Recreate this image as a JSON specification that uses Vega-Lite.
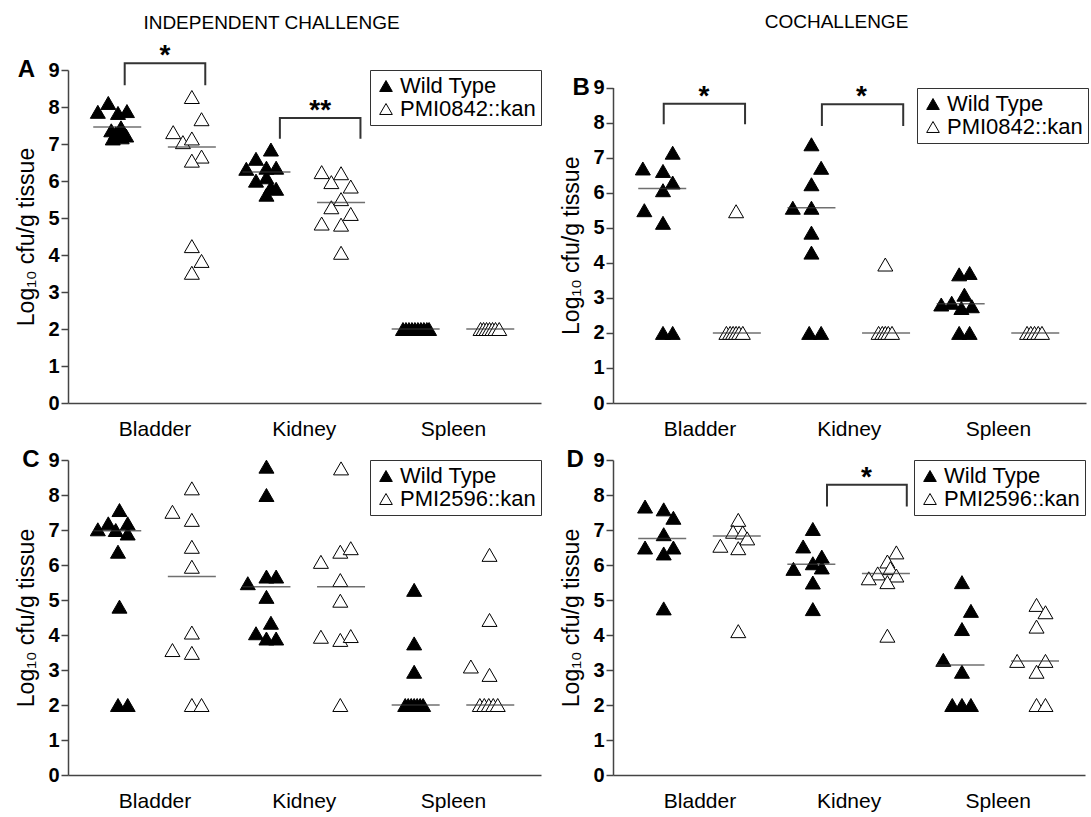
{
  "$schema": "https://vega.github.io/schema/vega-lite/v6.json",
  "padding": {"left": 15, "top": 13, "right": 2, "bottom": 2},
  "config": {
    "font": "Liberation Sans",
    "view": {"stroke": null},
    "axis": {"grid": false, "domainColor": "#444", "domainWidth": 1.5, "tickColor": "#444", "tickWidth": 1.5, "labelColor": "black", "titleColor": "black"},
    "title": {"color": "black", "fontWeight": "normal"},
    "legend": {"title": null, "labelFontSize": 22, "labelColor": "black", "symbolType": "triangle-up", "symbolSize": 160, "symbolStrokeColor": "black", "symbolStrokeWidth": 1, "strokeColor": "#333", "fillColor": "white", "padding": 5, "rowPadding": 1, "labelOffset": 3}
  },
  "datasets": {
    "pts": [
      {"p":"A","s":"Wild Type","x":0.40,"v":7.87},{"p":"A","s":"Wild Type","x":0.54,"v":8.11},{"p":"A","s":"Wild Type","x":0.67,"v":7.84},{"p":"A","s":"Wild Type","x":0.79,"v":7.89},{"p":"A","s":"Wild Type","x":0.58,"v":7.37},{"p":"A","s":"Wild Type","x":0.71,"v":7.45},{"p":"A","s":"Wild Type","x":0.64,"v":7.29},{"p":"A","s":"Wild Type","x":0.78,"v":7.23},{"p":"A","s":"Wild Type","x":0.60,"v":7.15},{"p":"A","s":"Wild Type","x":0.72,"v":7.18},
      {"p":"A","s":"PMI0842::kan","x":1.66,"v":8.27},{"p":"A","s":"PMI0842::kan","x":1.79,"v":7.67},{"p":"A","s":"PMI0842::kan","x":1.41,"v":7.32},{"p":"A","s":"PMI0842::kan","x":1.54,"v":7.05},{"p":"A","s":"PMI0842::kan","x":1.66,"v":7.15},{"p":"A","s":"PMI0842::kan","x":1.79,"v":6.66},{"p":"A","s":"PMI0842::kan","x":1.66,"v":6.55},{"p":"A","s":"PMI0842::kan","x":1.66,"v":4.24},{"p":"A","s":"PMI0842::kan","x":1.79,"v":3.84},{"p":"A","s":"PMI0842::kan","x":1.66,"v":3.52},
      {"p":"A","s":"Wild Type","x":2.39,"v":6.33},{"p":"A","s":"Wild Type","x":2.52,"v":6.60},{"p":"A","s":"Wild Type","x":2.72,"v":6.85},{"p":"A","s":"Wild Type","x":2.66,"v":6.36},{"p":"A","s":"Wild Type","x":2.79,"v":6.36},{"p":"A","s":"Wild Type","x":2.52,"v":6.01},{"p":"A","s":"Wild Type","x":2.66,"v":6.10},{"p":"A","s":"Wild Type","x":2.79,"v":5.79},{"p":"A","s":"Wild Type","x":2.66,"v":5.63},{"p":"A","s":"Wild Type","x":2.72,"v":5.83},
      {"p":"A","s":"PMI0842::kan","x":3.40,"v":6.24},{"p":"A","s":"PMI0842::kan","x":3.66,"v":6.21},{"p":"A","s":"PMI0842::kan","x":3.53,"v":5.97},{"p":"A","s":"PMI0842::kan","x":3.79,"v":5.85},{"p":"A","s":"PMI0842::kan","x":3.66,"v":5.51},{"p":"A","s":"PMI0842::kan","x":3.53,"v":5.29},{"p":"A","s":"PMI0842::kan","x":3.79,"v":5.11},{"p":"A","s":"PMI0842::kan","x":3.40,"v":4.85},{"p":"A","s":"PMI0842::kan","x":3.66,"v":4.82},{"p":"A","s":"PMI0842::kan","x":3.66,"v":4.06},
      {"p":"A","s":"Wild Type","x":4.49,"v":2},{"p":"A","s":"Wild Type","x":4.53,"v":2},{"p":"A","s":"Wild Type","x":4.57,"v":2},{"p":"A","s":"Wild Type","x":4.61,"v":2},{"p":"A","s":"Wild Type","x":4.65,"v":2},{"p":"A","s":"Wild Type","x":4.69,"v":2},{"p":"A","s":"Wild Type","x":4.73,"v":2},{"p":"A","s":"Wild Type","x":4.77,"v":2},{"p":"A","s":"Wild Type","x":4.81,"v":2},{"p":"A","s":"Wild Type","x":4.84,"v":2},
      {"p":"A","s":"PMI0842::kan","x":5.53,"v":2},{"p":"A","s":"PMI0842::kan","x":5.57,"v":2},{"p":"A","s":"PMI0842::kan","x":5.61,"v":2},{"p":"A","s":"PMI0842::kan","x":5.65,"v":2},{"p":"A","s":"PMI0842::kan","x":5.69,"v":2},{"p":"A","s":"PMI0842::kan","x":5.73,"v":2},{"p":"A","s":"PMI0842::kan","x":5.78,"v":2},

      {"p":"B","s":"Wild Type","x":0.40,"v":6.69},{"p":"B","s":"Wild Type","x":0.67,"v":6.62},{"p":"B","s":"Wild Type","x":0.80,"v":7.14},{"p":"B","s":"Wild Type","x":0.80,"v":6.29},{"p":"B","s":"Wild Type","x":0.67,"v":6.07},{"p":"B","s":"Wild Type","x":0.42,"v":5.50},{"p":"B","s":"Wild Type","x":0.67,"v":5.14},{"p":"B","s":"Wild Type","x":0.67,"v":2},{"p":"B","s":"Wild Type","x":0.80,"v":2},
      {"p":"B","s":"PMI0842::kan","x":1.65,"v":5.47},{"p":"B","s":"PMI0842::kan","x":1.52,"v":2},{"p":"B","s":"PMI0842::kan","x":1.57,"v":2},{"p":"B","s":"PMI0842::kan","x":1.61,"v":2},{"p":"B","s":"PMI0842::kan","x":1.65,"v":2},{"p":"B","s":"PMI0842::kan","x":1.69,"v":2},{"p":"B","s":"PMI0842::kan","x":1.74,"v":2},
      {"p":"B","s":"Wild Type","x":2.66,"v":7.38},{"p":"B","s":"Wild Type","x":2.79,"v":6.71},{"p":"B","s":"Wild Type","x":2.66,"v":6.24},{"p":"B","s":"Wild Type","x":2.41,"v":5.57},{"p":"B","s":"Wild Type","x":2.66,"v":5.57},{"p":"B","s":"Wild Type","x":2.66,"v":4.86},{"p":"B","s":"Wild Type","x":2.66,"v":4.29},{"p":"B","s":"Wild Type","x":2.63,"v":2},{"p":"B","s":"Wild Type","x":2.79,"v":2},
      {"p":"B","s":"PMI0842::kan","x":3.65,"v":3.95},{"p":"B","s":"PMI0842::kan","x":3.56,"v":2},{"p":"B","s":"PMI0842::kan","x":3.61,"v":2},{"p":"B","s":"PMI0842::kan","x":3.65,"v":2},{"p":"B","s":"PMI0842::kan","x":3.69,"v":2},{"p":"B","s":"PMI0842::kan","x":3.74,"v":2},
      {"p":"B","s":"Wild Type","x":4.64,"v":3.67},{"p":"B","s":"Wild Type","x":4.78,"v":3.71},{"p":"B","s":"Wild Type","x":4.71,"v":3.09},{"p":"B","s":"Wild Type","x":4.40,"v":2.81},{"p":"B","s":"Wild Type","x":4.54,"v":2.86},{"p":"B","s":"Wild Type","x":4.67,"v":2.71},{"p":"B","s":"Wild Type","x":4.81,"v":2.76},{"p":"B","s":"Wild Type","x":4.64,"v":2},{"p":"B","s":"Wild Type","x":4.78,"v":2},
      {"p":"B","s":"PMI0842::kan","x":5.55,"v":2},{"p":"B","s":"PMI0842::kan","x":5.60,"v":2},{"p":"B","s":"PMI0842::kan","x":5.65,"v":2},{"p":"B","s":"PMI0842::kan","x":5.70,"v":2},{"p":"B","s":"PMI0842::kan","x":5.75,"v":2},

      {"p":"C","s":"Wild Type","x":0.69,"v":7.57},{"p":"C","s":"Wild Type","x":0.40,"v":7.02},{"p":"C","s":"Wild Type","x":0.54,"v":7.19},{"p":"C","s":"Wild Type","x":0.64,"v":7.0},{"p":"C","s":"Wild Type","x":0.80,"v":7.19},{"p":"C","s":"Wild Type","x":0.80,"v":6.9},{"p":"C","s":"Wild Type","x":0.67,"v":6.38},{"p":"C","s":"Wild Type","x":0.69,"v":4.81},{"p":"C","s":"Wild Type","x":0.67,"v":2},{"p":"C","s":"Wild Type","x":0.80,"v":2},
      {"p":"C","s":"PMI2596::kan","x":1.66,"v":8.19},{"p":"C","s":"PMI2596::kan","x":1.40,"v":7.52},{"p":"C","s":"PMI2596::kan","x":1.66,"v":7.29},{"p":"C","s":"PMI2596::kan","x":1.66,"v":6.52},{"p":"C","s":"PMI2596::kan","x":1.66,"v":5.95},{"p":"C","s":"PMI2596::kan","x":1.66,"v":4.07},{"p":"C","s":"PMI2596::kan","x":1.40,"v":3.57},{"p":"C","s":"PMI2596::kan","x":1.66,"v":3.49},{"p":"C","s":"PMI2596::kan","x":1.66,"v":2},{"p":"C","s":"PMI2596::kan","x":1.79,"v":2},
      {"p":"C","s":"Wild Type","x":2.66,"v":8.81},{"p":"C","s":"Wild Type","x":2.66,"v":8.0},{"p":"C","s":"Wild Type","x":2.41,"v":5.48},{"p":"C","s":"Wild Type","x":2.66,"v":5.67},{"p":"C","s":"Wild Type","x":2.79,"v":5.67},{"p":"C","s":"Wild Type","x":2.66,"v":5.09},{"p":"C","s":"Wild Type","x":2.72,"v":4.35},{"p":"C","s":"Wild Type","x":2.52,"v":4.05},{"p":"C","s":"Wild Type","x":2.66,"v":3.9},{"p":"C","s":"Wild Type","x":2.79,"v":3.9},
      {"p":"C","s":"PMI2596::kan","x":3.66,"v":8.76},{"p":"C","s":"PMI2596::kan","x":3.39,"v":6.09},{"p":"C","s":"PMI2596::kan","x":3.65,"v":6.38},{"p":"C","s":"PMI2596::kan","x":3.79,"v":6.48},{"p":"C","s":"PMI2596::kan","x":3.65,"v":5.57},{"p":"C","s":"PMI2596::kan","x":3.65,"v":4.98},{"p":"C","s":"PMI2596::kan","x":3.39,"v":3.95},{"p":"C","s":"PMI2596::kan","x":3.65,"v":3.86},{"p":"C","s":"PMI2596::kan","x":3.79,"v":3.97},{"p":"C","s":"PMI2596::kan","x":3.65,"v":2.0},
      {"p":"C","s":"Wild Type","x":4.64,"v":5.29},{"p":"C","s":"Wild Type","x":4.64,"v":3.76},{"p":"C","s":"Wild Type","x":4.64,"v":2.95},{"p":"C","s":"Wild Type","x":4.52,"v":2},{"p":"C","s":"Wild Type","x":4.56,"v":2},{"p":"C","s":"Wild Type","x":4.60,"v":2},{"p":"C","s":"Wild Type","x":4.64,"v":2},{"p":"C","s":"Wild Type","x":4.68,"v":2},{"p":"C","s":"Wild Type","x":4.72,"v":2},{"p":"C","s":"Wild Type","x":4.76,"v":2},
      {"p":"C","s":"PMI2596::kan","x":5.65,"v":6.29},{"p":"C","s":"PMI2596::kan","x":5.65,"v":4.43},{"p":"C","s":"PMI2596::kan","x":5.40,"v":3.1},{"p":"C","s":"PMI2596::kan","x":5.65,"v":2.86},{"p":"C","s":"PMI2596::kan","x":5.52,"v":2},{"p":"C","s":"PMI2596::kan","x":5.58,"v":2},{"p":"C","s":"PMI2596::kan","x":5.64,"v":2},{"p":"C","s":"PMI2596::kan","x":5.70,"v":2},{"p":"C","s":"PMI2596::kan","x":5.76,"v":2},

      {"p":"D","s":"Wild Type","x":0.43,"v":7.67},{"p":"D","s":"Wild Type","x":0.68,"v":7.59},{"p":"D","s":"Wild Type","x":0.81,"v":7.35},{"p":"D","s":"Wild Type","x":0.68,"v":6.88},{"p":"D","s":"Wild Type","x":0.43,"v":6.5},{"p":"D","s":"Wild Type","x":0.81,"v":6.5},{"p":"D","s":"Wild Type","x":0.68,"v":6.33},{"p":"D","s":"Wild Type","x":0.68,"v":4.76},
      {"p":"D","s":"PMI2596::kan","x":1.68,"v":7.29},{"p":"D","s":"PMI2596::kan","x":1.61,"v":6.95},{"p":"D","s":"PMI2596::kan","x":1.74,"v":6.93},{"p":"D","s":"PMI2596::kan","x":1.80,"v":6.76},{"p":"D","s":"PMI2596::kan","x":1.44,"v":6.55},{"p":"D","s":"PMI2596::kan","x":1.68,"v":6.48},{"p":"D","s":"PMI2596::kan","x":1.68,"v":4.11},
      {"p":"D","s":"Wild Type","x":2.68,"v":7.03},{"p":"D","s":"Wild Type","x":2.55,"v":6.53},{"p":"D","s":"Wild Type","x":2.80,"v":6.24},{"p":"D","s":"Wild Type","x":2.68,"v":6.05},{"p":"D","s":"Wild Type","x":2.80,"v":5.93},{"p":"D","s":"Wild Type","x":2.42,"v":5.89},{"p":"D","s":"Wild Type","x":2.68,"v":5.5},{"p":"D","s":"Wild Type","x":2.68,"v":4.74},
      {"p":"D","s":"PMI2596::kan","x":3.80,"v":6.36},{"p":"D","s":"PMI2596::kan","x":3.68,"v":6.1},{"p":"D","s":"PMI2596::kan","x":3.72,"v":5.91},{"p":"D","s":"PMI2596::kan","x":3.55,"v":5.76},{"p":"D","s":"PMI2596::kan","x":3.43,"v":5.62},{"p":"D","s":"PMI2596::kan","x":3.80,"v":5.7},{"p":"D","s":"PMI2596::kan","x":3.68,"v":5.51},{"p":"D","s":"PMI2596::kan","x":3.68,"v":3.98},
      {"p":"D","s":"Wild Type","x":4.68,"v":5.51},{"p":"D","s":"Wild Type","x":4.80,"v":4.69},{"p":"D","s":"Wild Type","x":4.68,"v":4.17},{"p":"D","s":"Wild Type","x":4.43,"v":3.29},{"p":"D","s":"Wild Type","x":4.68,"v":2.95},{"p":"D","s":"Wild Type","x":4.55,"v":2},{"p":"D","s":"Wild Type","x":4.68,"v":2},{"p":"D","s":"Wild Type","x":4.80,"v":2},
      {"p":"D","s":"PMI2596::kan","x":5.68,"v":4.86},{"p":"D","s":"PMI2596::kan","x":5.80,"v":4.65},{"p":"D","s":"PMI2596::kan","x":5.68,"v":4.24},{"p":"D","s":"PMI2596::kan","x":5.42,"v":3.26},{"p":"D","s":"PMI2596::kan","x":5.80,"v":3.26},{"p":"D","s":"PMI2596::kan","x":5.68,"v":2.95},{"p":"D","s":"PMI2596::kan","x":5.68,"v":2},{"p":"D","s":"PMI2596::kan","x":5.80,"v":2}
    ],
    "med": [
      {"p":"A","x":0.66,"v":7.46},{"p":"A","x":1.66,"v":6.92},{"p":"A","x":2.66,"v":6.24},{"p":"A","x":3.66,"v":5.42},{"p":"A","x":4.66,"v":2},{"p":"A","x":5.66,"v":2},
      {"p":"B","x":0.66,"v":6.12},{"p":"B","x":1.66,"v":2},{"p":"B","x":2.66,"v":5.57},{"p":"B","x":3.66,"v":2},{"p":"B","x":4.66,"v":2.83},{"p":"B","x":5.66,"v":2},
      {"p":"C","x":0.66,"v":6.98},{"p":"C","x":1.66,"v":5.67},{"p":"C","x":2.66,"v":5.38},{"p":"C","x":3.66,"v":5.38},{"p":"C","x":4.66,"v":2},{"p":"C","x":5.66,"v":2},
      {"p":"D","x":0.66,"v":6.76},{"p":"D","x":1.66,"v":6.83},{"p":"D","x":2.66,"v":6.02},{"p":"D","x":3.66,"v":5.76},{"p":"D","x":4.66,"v":3.14},{"p":"D","x":5.66,"v":3.26}
    ],
    "br": [
      {"p":"A","id":"A1","o":1,"x":0.76,"v":8.59},{"p":"A","id":"A1","o":2,"x":0.76,"v":9.18},{"p":"A","id":"A1","o":3,"x":1.84,"v":9.18},{"p":"A","id":"A1","o":4,"x":1.84,"v":8.59},
      {"p":"A","id":"A2","o":1,"x":2.84,"v":7.14},{"p":"A","id":"A2","o":2,"x":2.84,"v":7.70},{"p":"A","id":"A2","o":3,"x":3.92,"v":7.70},{"p":"A","id":"A2","o":4,"x":3.92,"v":7.14},
      {"p":"B","id":"B1","o":1,"x":0.68,"v":7.95},{"p":"B","id":"B1","o":2,"x":0.68,"v":8.54},{"p":"B","id":"B1","o":3,"x":1.77,"v":8.54},{"p":"B","id":"B1","o":4,"x":1.77,"v":7.95},
      {"p":"B","id":"B2","o":1,"x":2.80,"v":7.90},{"p":"B","id":"B2","o":2,"x":2.80,"v":8.52},{"p":"B","id":"B2","o":3,"x":3.89,"v":8.52},{"p":"B","id":"B2","o":4,"x":3.89,"v":7.90},
      {"p":"D","id":"D1","o":1,"x":2.87,"v":7.67},{"p":"D","id":"D1","o":2,"x":2.87,"v":8.29},{"p":"D","id":"D1","o":3,"x":3.94,"v":8.29},{"p":"D","id":"D1","o":4,"x":3.94,"v":7.67}
    ],
    "stars": [
      {"p":"A","x":1.30,"v":9.18,"lab":"*"},{"p":"A","x":3.38,"v":7.70,"lab":"**"},
      {"p":"B","x":1.22,"v":8.54,"lab":"*"},{"p":"B","x":3.33,"v":8.52,"lab":"*"},
      {"p":"D","x":3.40,"v":8.29,"lab":"*"}
    ],
    "letters": [
      {"p":"A","t":"A","x":-0.44,"v":9},{"p":"B","t":"B","x":-0.31,"v":9},{"p":"C","t":"C","x":-0.38,"v":9},{"p":"D","t":"D","x":-0.39,"v":9}
    ]
  },
  "concat": [
    {
      "width": 473, "height": 333,
      "title": {"text": "INDEPENDENT CHALLENGE", "fontSize": 19, "offset": 9, "dx": -33},
      "encoding": {
        "x": {"field": "x", "type": "quantitative", "scale": {"domain": [0, 6.34], "nice": false, "zero": false},
              "axis": {"title": null, "values": [1.16, 3.16, 5.16], "labelExpr": "datum.value < 2 ? 'Bladder' : datum.value < 4 ? 'Kidney' : 'Spleen'", "ticks": false, "labelFontSize": 21, "labelPadding": 15, "labelFlush": false}},
        "y": {"field": "v", "type": "quantitative", "scale": {"domain": [0, 9], "nice": false, "zero": true},
              "axis": {"title": "Log₁₀ cfu/g tissue", "values": [0,1,2,3,4,5,6,7,8,9], "titleFontSize": 23, "titleFontWeight": "normal", "labelFontSize": 20, "labelFontWeight": "bold", "tickSize": 7, "labelPadding": 2, "titlePadding": 9}}
      },
      "layer": [
        {"data": {"name": "pts"}, "transform": [{"filter": "datum.p === 'A'"}],
         "mark": {"type": "point", "shape": "triangle-up", "filled": true, "size": 225, "stroke": "black", "strokeWidth": 1, "opacity": 1},
         "encoding": {"fill": {"field": "s", "type": "nominal", "scale": {"domain": ["Wild Type", "PMI0842::kan"], "range": ["black", "white"]},
           "legend": {"orient": "top-right", "offset": 0}}}},
        {"data": {"name": "med"}, "transform": [{"filter": "datum.p === 'A'"}], "mark": {"type": "tick", "orient": "horizontal", "size": 48, "thickness": 1.5, "color": "#333"}},
        {"data": {"name": "br"}, "transform": [{"filter": "datum.p === 'A'"}], "mark": {"type": "line", "color": "#333", "strokeWidth": 2}, "encoding": {"detail": {"field": "id"}, "order": {"field": "o"}}},
        {"data": {"name": "stars"}, "transform": [{"filter": "datum.p === 'A'"}], "mark": {"type": "text", "fontSize": 28, "fontWeight": "bold", "baseline": "alphabetic", "dy": 1, "color": "black"}, "encoding": {"text": {"field": "lab"}}},
        {"data": {"name": "letters"}, "transform": [{"filter": "datum.p === 'A'"}], "mark": {"type": "text", "fontSize": 24, "fontWeight": "bold", "align": "right", "baseline": "middle", "color": "black"}, "encoding": {"text": {"field": "t"}}}
      ]
    },
    {
      "width": 473, "height": 333,
      "title": {"text": "COCHALLENGE", "fontSize": 19, "offset": 38, "dx": -13},
      "encoding": {
        "x": {"field": "x", "type": "quantitative", "scale": {"domain": [0, 6.34], "nice": false, "zero": false},
              "axis": {"title": null, "values": [1.16, 3.16, 5.16], "labelExpr": "datum.value < 2 ? 'Bladder' : datum.value < 4 ? 'Kidney' : 'Spleen'", "ticks": false, "labelFontSize": 21, "labelPadding": 15, "labelFlush": false}},
        "y": {"field": "v", "type": "quantitative", "scale": {"domain": [0, 9], "nice": false, "zero": true, "range": [333, 17.5]},
              "axis": {"title": "Log₁₀ cfu/g tissue", "values": [0,1,2,3,4,5,6,7,8,9], "titleFontSize": 23, "titleFontWeight": "normal", "labelFontSize": 20, "labelFontWeight": "bold", "tickSize": 7, "labelPadding": 2, "titlePadding": 9}}
      },
      "layer": [
        {"data": {"name": "pts"}, "transform": [{"filter": "datum.p === 'B'"}],
         "mark": {"type": "point", "shape": "triangle-up", "filled": true, "size": 225, "stroke": "black", "strokeWidth": 1, "opacity": 1},
         "encoding": {"fill": {"field": "s", "type": "nominal", "scale": {"domain": ["Wild Type", "PMI0842::kan"], "range": ["black", "white"]},
           "legend": {"orient": "none", "legendX": 304, "legendY": 18}}}},
        {"data": {"name": "med"}, "transform": [{"filter": "datum.p === 'B'"}], "mark": {"type": "tick", "orient": "horizontal", "size": 48, "thickness": 1.5, "color": "#333"}},
        {"data": {"name": "br"}, "transform": [{"filter": "datum.p === 'B'"}], "mark": {"type": "line", "color": "#333", "strokeWidth": 2}, "encoding": {"detail": {"field": "id"}, "order": {"field": "o"}}},
        {"data": {"name": "stars"}, "transform": [{"filter": "datum.p === 'B'"}], "mark": {"type": "text", "fontSize": 28, "fontWeight": "bold", "baseline": "alphabetic", "dy": 1, "color": "black"}, "encoding": {"text": {"field": "lab"}}},
        {"data": {"name": "letters"}, "transform": [{"filter": "datum.p === 'B'"}], "mark": {"type": "text", "fontSize": 24, "fontWeight": "bold", "align": "right", "baseline": "middle", "color": "black"}, "encoding": {"text": {"field": "t"}}}
      ]
    },
    {
      "width": 473, "height": 315,
      "encoding": {
        "x": {"field": "x", "type": "quantitative", "scale": {"domain": [0, 6.34], "nice": false, "zero": false},
              "axis": {"title": null, "values": [1.16, 3.16, 5.16], "labelExpr": "datum.value < 2 ? 'Bladder' : datum.value < 4 ? 'Kidney' : 'Spleen'", "ticks": false, "labelFontSize": 21, "labelPadding": 15, "labelFlush": false}},
        "y": {"field": "v", "type": "quantitative", "scale": {"domain": [0, 9], "nice": false, "zero": true},
              "axis": {"title": "Log₁₀ cfu/g tissue", "values": [0,1,2,3,4,5,6,7,8,9], "titleFontSize": 23, "titleFontWeight": "normal", "labelFontSize": 20, "labelFontWeight": "bold", "tickSize": 7, "labelPadding": 2, "titlePadding": 9}}
      },
      "layer": [
        {"data": {"name": "pts"}, "transform": [{"filter": "datum.p === 'C'"}],
         "mark": {"type": "point", "shape": "triangle-up", "filled": true, "size": 225, "stroke": "black", "strokeWidth": 1, "opacity": 1},
         "encoding": {"fill": {"field": "s", "type": "nominal", "scale": {"domain": ["Wild Type", "PMI2596::kan"], "range": ["black", "white"]},
           "legend": {"orient": "top-right", "offset": 0}}}},
        {"data": {"name": "med"}, "transform": [{"filter": "datum.p === 'C'"}], "mark": {"type": "tick", "orient": "horizontal", "size": 48, "thickness": 1.5, "color": "#333"}},
        {"data": {"name": "letters"}, "transform": [{"filter": "datum.p === 'C'"}], "mark": {"type": "text", "fontSize": 24, "fontWeight": "bold", "align": "right", "baseline": "middle", "color": "black"}, "encoding": {"text": {"field": "t"}}}
      ]
    },
    {
      "width": 472, "height": 315,
      "encoding": {
        "x": {"field": "x", "type": "quantitative", "scale": {"domain": [0, 6.33], "nice": false, "zero": false},
              "axis": {"title": null, "values": [1.16, 3.16, 5.16], "labelExpr": "datum.value < 2 ? 'Bladder' : datum.value < 4 ? 'Kidney' : 'Spleen'", "ticks": false, "labelFontSize": 21, "labelPadding": 15, "labelFlush": false}},
        "y": {"field": "v", "type": "quantitative", "scale": {"domain": [0, 9], "nice": false, "zero": true},
              "axis": {"title": "Log₁₀ cfu/g tissue", "values": [0,1,2,3,4,5,6,7,8,9], "titleFontSize": 23, "titleFontWeight": "normal", "labelFontSize": 20, "labelFontWeight": "bold", "tickSize": 7, "labelPadding": 2, "titlePadding": 9}}
      },
      "layer": [
        {"data": {"name": "pts"}, "transform": [{"filter": "datum.p === 'D'"}],
         "mark": {"type": "point", "shape": "triangle-up", "filled": true, "size": 225, "stroke": "black", "strokeWidth": 1, "opacity": 1},
         "encoding": {"fill": {"field": "s", "type": "nominal", "scale": {"domain": ["Wild Type", "PMI2596::kan"], "range": ["black", "white"]},
           "legend": {"orient": "top-right", "offset": 0}}}},
        {"data": {"name": "med"}, "transform": [{"filter": "datum.p === 'D'"}], "mark": {"type": "tick", "orient": "horizontal", "size": 48, "thickness": 1.5, "color": "#333"}},
        {"data": {"name": "br"}, "transform": [{"filter": "datum.p === 'D'"}], "mark": {"type": "line", "color": "#333", "strokeWidth": 2}, "encoding": {"detail": {"field": "id"}, "order": {"field": "o"}}},
        {"data": {"name": "stars"}, "transform": [{"filter": "datum.p === 'D'"}], "mark": {"type": "text", "fontSize": 28, "fontWeight": "bold", "baseline": "alphabetic", "dy": 1, "color": "black"}, "encoding": {"text": {"field": "lab"}}},
        {"data": {"name": "letters"}, "transform": [{"filter": "datum.p === 'D'"}], "mark": {"type": "text", "fontSize": 24, "fontWeight": "bold", "align": "right", "baseline": "middle", "color": "black"}, "encoding": {"text": {"field": "t"}}}
      ]
    }
  ],
  "columns": 2,
  "spacing": {"row": 57, "column": 72},
  "bounds": "flush",
  "resolve": {"scale": {"fill": "independent"}, "legend": {"fill": "independent"}}
}
